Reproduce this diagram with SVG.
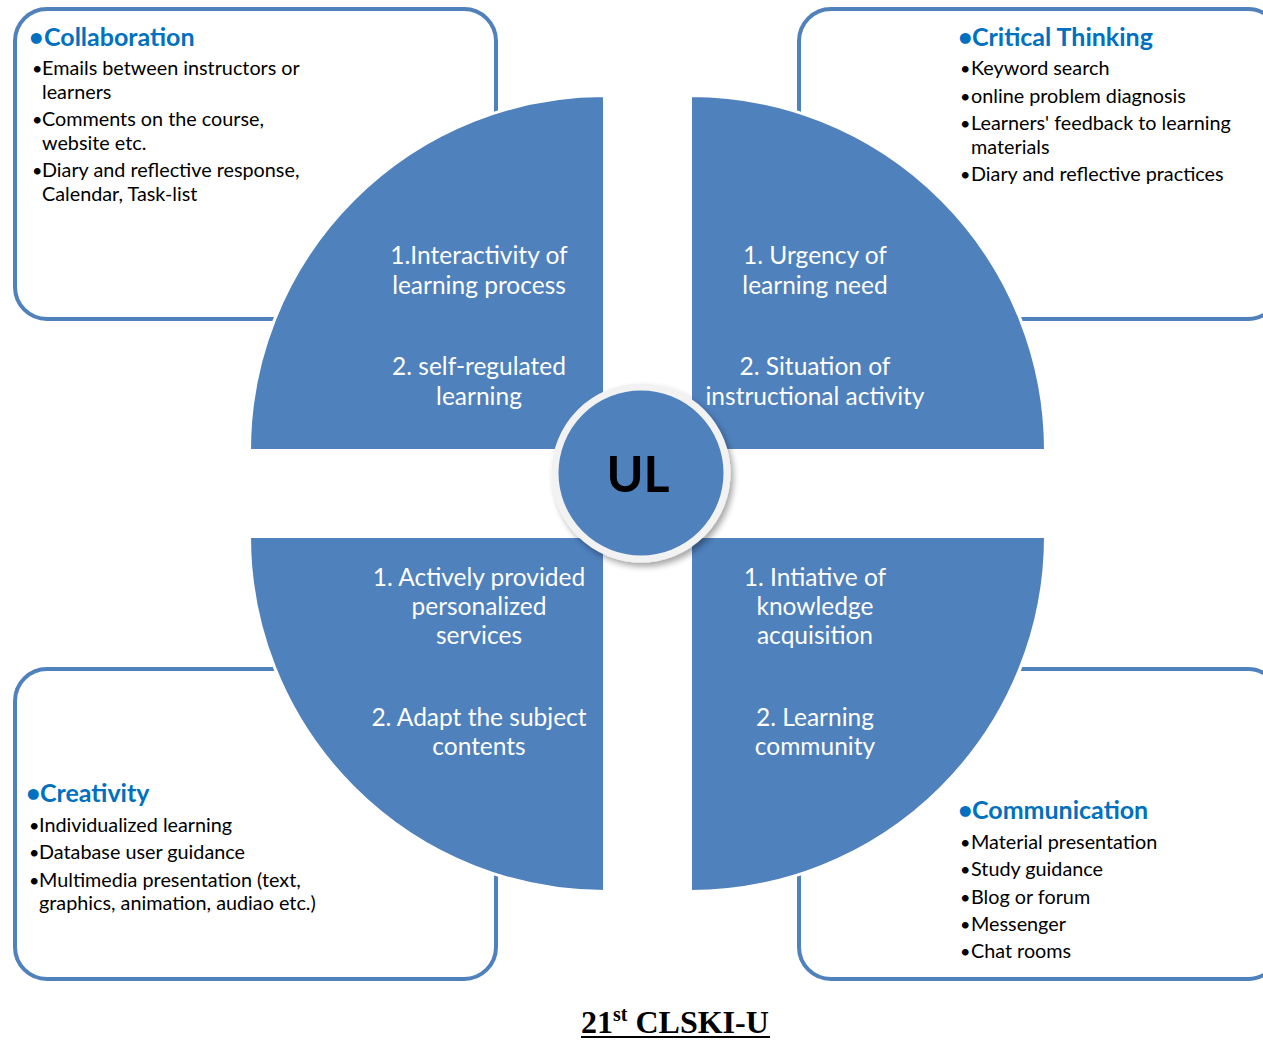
<svg xmlns="http://www.w3.org/2000/svg" width="1263" height="1040" viewBox="0 0 1263 1040">
<defs>
<style>
.box{fill:#fff;stroke:#4f81bd;stroke-width:4}
.quad{fill:#4f81bd;stroke:#fff;stroke-width:3}
.qt{font-family:Lato,"Noto Sans",sans-serif;font-size:24.5px;fill:#fff;text-anchor:middle}
.hd{font-family:Lato,"Noto Sans",sans-serif;font-size:25px;font-weight:bold;fill:#0070c0}
.it{font-family:Lato,"Noto Sans",sans-serif;font-size:19.8px;fill:#000}
.bu{font-family:Lato,"Noto Sans",sans-serif;font-size:18px;fill:#000}
.cap{font-family:"Liberation Serif",serif;font-size:32px;font-weight:bold;fill:#000}
</style>
<filter id="sh" x="-20%" y="-20%" width="140%" height="140%">
<feGaussianBlur in="SourceAlpha" stdDeviation="3"/>
<feOffset dx="3" dy="4"/>
<feComponentTransfer><feFuncA type="linear" slope="0.35"/></feComponentTransfer>
<feMerge><feMergeNode/><feMergeNode in="SourceGraphic"/></feMerge>
</filter>
</defs>
<rect width="1263" height="1040" fill="#fff"/>

<g id="box-collaboration">
<rect class="box" x="15" y="9" width="481" height="310" rx="32"/>
<text class="hd" x="29" y="46">•<tspan x="44">Collaboration</tspan></text>
<text class="bu" x="32" y="75">•</text><text class="it" x="42" y="75">Emails between instructors or</text>
<text class="it" x="42" y="99">learners</text>
<text class="bu" x="32" y="126">•</text><text class="it" x="42" y="126">Comments on the course,</text>
<text class="it" x="42" y="150">website etc.</text>
<text class="bu" x="32" y="177">•</text><text class="it" x="42" y="177">Diary and reflective response,</text>
<text class="it" x="42" y="201">Calendar, Task-list</text>
</g>

<g id="box-critical-thinking">
<rect class="box" x="799" y="9" width="481" height="310" rx="32"/>
<text class="hd" x="958" y="46">•<tspan x="972">Critical Thinking</tspan></text>
<text class="bu" x="960" y="75">•</text><text class="it" x="971" y="75">Keyword search</text>
<text class="bu" x="960" y="103">•</text><text class="it" x="971" y="103">online problem diagnosis</text>
<text class="bu" x="960" y="130">•</text><text class="it" x="971" y="130">Learners' feedback to learning</text>
<text class="it" x="971" y="154">materials</text>
<text class="bu" x="960" y="181">•</text><text class="it" x="971" y="181">Diary and reflective practices</text>
</g>

<g id="box-creativity">
<rect class="box" x="15" y="669" width="481" height="310" rx="32"/>
<text class="hd" x="26" y="802">•<tspan x="40">Creativity</tspan></text>
<text class="bu" x="29" y="832">•</text><text class="it" x="39" y="832">Individualized learning</text>
<text class="bu" x="29" y="859">•</text><text class="it" x="39" y="859">Database user guidance</text>
<text class="bu" x="29" y="887">•</text><text class="it" x="39" y="887">Multimedia presentation (text,</text>
<text class="it" x="39" y="910">graphics, animation, audiao etc.)</text>
</g>

<g id="box-communication">
<rect class="box" x="799" y="669" width="481" height="310" rx="32"/>
<text class="hd" x="958" y="819">•<tspan x="972">Communication</tspan></text>
<text class="bu" x="960" y="849">•</text><text class="it" x="971" y="849">Material presentation</text>
<text class="bu" x="960" y="876">•</text><text class="it" x="971" y="876">Study guidance</text>
<text class="bu" x="960" y="904">•</text><text class="it" x="971" y="904">Blog or forum</text>
<text class="bu" x="960" y="931">•</text><text class="it" x="971" y="931">Messenger</text>
<text class="bu" x="960" y="958">•</text><text class="it" x="971" y="958">Chat rooms</text>
</g>

<g id="quad-tl">
<path class="quad" d="M604.5,450.5 L249.5,450.5 A355,355 0 0 1 604.5,95.5 Z"/>
<text class="qt" x="479" y="264">1.Interactivity of</text>
<text class="qt" x="479" y="294">learning process</text>
<text class="qt" x="479" y="375">2. self-regulated</text>
<text class="qt" x="479" y="405">learning</text>
</g>

<g id="quad-tr">
<path class="quad" d="M690.5,450.5 L690.5,95.5 A355,355 0 0 1 1045.5,450.5 Z"/>
<text class="qt" x="815" y="264">1. Urgency of</text>
<text class="qt" x="815" y="294">learning need</text>
<text class="qt" x="815" y="375">2. Situation of</text>
<text class="qt" x="815" y="405">instructional activity</text>
</g>

<g id="quad-bl">
<path class="quad" d="M604.5,536.5 L604.5,891.5 A355,355 0 0 1 249.5,536.5 Z"/>
<text class="qt" x="479" y="586">1. Actively provided</text>
<text class="qt" x="479" y="615">personalized</text>
<text class="qt" x="479" y="644">services</text>
<text class="qt" x="479" y="726">2. Adapt the subject</text>
<text class="qt" x="479" y="755">contents</text>
</g>

<g id="quad-br">
<path class="quad" d="M690.5,536.5 L1045.5,536.5 A355,355 0 0 1 690.5,891.5 Z"/>
<text class="qt" x="815" y="586">1. Intiative of</text>
<text class="qt" x="815" y="615">knowledge</text>
<text class="qt" x="815" y="644">acquisition</text>
<text class="qt" x="815" y="726">2. Learning</text>
<text class="qt" x="815" y="755">community</text>
</g>

<g id="center-ul">
<circle cx="641" cy="473" r="86" fill="#4f81bd" stroke="#f2f2f2" stroke-width="7" filter="url(#sh)"/>
<text x="638" y="492" font-family="Lato,'Noto Sans',sans-serif" font-size="50" font-weight="bold" fill="#000" text-anchor="middle">UL</text>
</g>

<g id="connectors"></g>

<g id="caption">
<text class="cap" x="581" y="1033">21<tspan font-size="20" dy="-12">st</tspan><tspan dy="12"> CLSKI-U</tspan></text>
<line x1="581" y1="1037" x2="770" y2="1037" stroke="#000" stroke-width="2"/>
</g>
</svg>
